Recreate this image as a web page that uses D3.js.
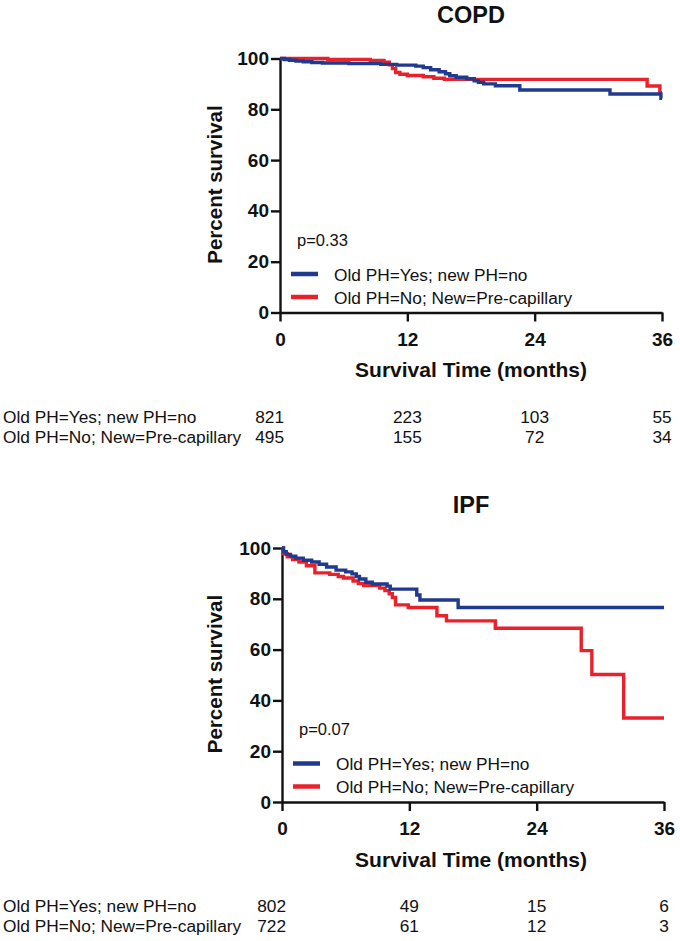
<!DOCTYPE html>
<html>
<head>
<meta charset="utf-8">
<script src="https://cdn.jsdelivr.net/npm/d3@7"></script>
<style>
  body { margin: 0; background: #fff; }
  text { font-family: "Liberation Sans", Arial, sans-serif; fill: #111; }
</style>
</head>
<body>
<div id="chart"></div>
<script>
// shared axes / labels
const monthTicks = [0, 12, 24, 36];
const pctTicks = [0, 20, 40, 60, 80, 100];
const groupNames = ["Old PH=Yes; new PH=no", "Old PH=No; New=Pre-capillary"];
const panelTitles = ["COPD", "IPF"];
const pValues = ["p=0.33", "p=0.07"];

// Kaplan-Meier steps [month, percent surviving]
const copdYesNo = [[0,100],[0.4,99.6],[0.9,99.3],[1.5,99],[2.2,98.7],[3,98.4],[4,98.2],[6.5,98],[9.5,97.7],[11,97.4],[12.8,97],[13.5,96.4],[14.2,95.6],[15,94.8],[15.6,94],[16,93.2],[16.6,92.6],[17.6,92],[18.3,91.2],[18.7,90.6],[19.2,90],[20.3,89.3],[22.6,87.6],[31.1,86],[35.9,84.3],[36,84.3]];
const copdNoPre = [[0,100],[4.5,99.6],[8.5,99.2],[9.8,98.5],[10.3,97.5],[10.6,96],[10.9,94.5],[11.3,93.8],[12,93.3],[13.5,92.8],[14.5,92.2],[15.5,91.8],[34.6,89.2],[35.8,86.5],[36,86.5]];
const ipfYesNo = [[0,100],[0.15,98.5],[0.4,97.5],[0.8,96.8],[1.3,96],[2,95.2],[2.8,94.5],[3.5,93.6],[4.2,92.5],[5.1,91.3],[6,90.6],[6.6,89.8],[7,88.8],[7.3,87.8],[7.9,86.5],[8.5,85.8],[9.9,85],[10.2,83.8],[12.7,81.5],[13,79.5],[16.6,76.6],[36,76.6]];
const ipfNoPre = [[0,100],[0.1,97.8],[0.5,96.5],[1,95.5],[1.6,94.5],[2.3,93],[3.1,90.2],[4.5,89.6],[5.3,88.8],[5.8,88.2],[6.7,87],[7.2,86],[7.7,85.2],[9.2,84.2],[9.7,83.2],[10.1,82],[10.4,80.5],[10.7,77.6],[11.9,76.6],[14.6,73.3],[15.5,71.3],[20.1,68.4],[28.2,59.6],[29.2,50.2],[32.2,33.1],[36,33.1]];

// numbers at risk at 0, 12, 24, 36 months
const copdAtRisk = [[821, 223, 103, 55], [495, 155, 72, 34]];
const ipfAtRisk = [[802, 49, 15, 6], [722, 61, 12, 3]];

const colors = ["#1f3a8e", "#e8212b"];

const svg = d3.select('#chart')
    .append('svg')
    .attr('width', 680)
    .attr('height', 941);

svg.append('rect').attr('width', 680).attr('height', 941).attr('fill', '#fff');

function drawPanel(p) {

    const x = d3.scaleLinear().domain([0, 36]).range([p.left, p.left + 382]);
    const y = d3.scaleLinear().domain([0, 100]).range([p.bottom, p.bottom - 254]);

    const g = svg.append('g');

    // title
    g.append('text')
        .attr('x', 471).attr('y', p.bottom - 289.5)
        .attr('text-anchor', 'middle')
        .attr('font-size', 23.5).attr('font-weight', 'bold')
        .text(p.title);

    // axes
    const yAxis = g.append('g')
        .attr('transform', 'translate(' + p.left + ',0)')
        .call(d3.axisLeft(y).tickValues(pctTicks).tickSize(9).tickSizeOuter(0).tickPadding(2));

    const xAxis = g.append('g')
        .attr('transform', 'translate(0,' + p.bottom + ')')
        .call(d3.axisBottom(x).tickValues(monthTicks).tickSize(9).tickSizeOuter(0).tickPadding(5));

    [yAxis, xAxis].forEach(a => {
        a.select('.domain').attr('stroke', '#111').attr('stroke-width', 2.4);
        a.selectAll('.tick line').attr('stroke', '#111').attr('stroke-width', 2.4);
        a.selectAll('.tick text')
            .attr('font-size', 19).attr('font-weight', 'bold')
            .attr('font-family', '"Liberation Sans", Arial, sans-serif')
            .attr('fill', '#111');
    });
    xAxis.selectAll('.tick text').attr('dy', null).attr('y', 33);

    // axis titles
    g.append('text')
        .attr('x', 471).attr('y', p.bottom + 64.5)
        .attr('text-anchor', 'middle')
        .attr('font-size', 21).attr('font-weight', 'bold')
        .text('Survival Time (months)');

    g.append('text')
        .attr('transform', 'translate(222,' + (p.bottom - 128) + ') rotate(-90)')
        .attr('text-anchor', 'middle')
        .attr('font-size', 20.5).attr('font-weight', 'bold')
        .text('Percent survival');

    // survival curves
    const line = d3.line()
        .x(d => x(d[0]))
        .y(d => y(d[1]))
        .curve(d3.curveStepAfter);

    [1, 0].forEach(i => {
        g.append('path')
            .datum(p.series[i])
            .attr('fill', 'none')
            .attr('stroke', colors[i])
            .attr('stroke-width', 3.4)
            .attr('d', line);
    });

    // p value
    g.append('text')
        .attr('x', p.left + 17).attr('y', p.bottom - 67)
        .attr('font-size', 16.5)
        .text(p.pValue);

    // legend
    const legendY = [p.bottom - 38.5, p.bottom - 15.5];
    groupNames.forEach((name, i) => {
        g.append('line')
            .attr('x1', p.left + 11).attr('x2', p.left + 38)
            .attr('y1', legendY[i]).attr('y2', legendY[i])
            .attr('stroke', colors[i]).attr('stroke-width', 4.5);
        g.append('text')
            .attr('x', p.left + 54).attr('y', legendY[i] + 6.5)
            .attr('font-size', 17.3)
            .text(name);
    });

    // numbers at risk
    groupNames.forEach((name, i) => {
        const rowY = p.bottom + 110 + i * 20;
        g.append('text')
            .attr('x', 3).attr('y', rowY)
            .attr('font-size', 17.3)
            .text(name);
        p.atRisk[i].forEach((n, j) => {
            g.append('text')
                .attr('x', j === 0 ? x(monthTicks[j]) + 4 : x(monthTicks[j]))
                .attr('y', rowY)
                .attr('text-anchor', j === 0 ? 'end' : 'middle')
                .attr('font-size', 17.3)
                .text(n);
        });
    });
}

drawPanel({ title: panelTitles[0], left: 280, bottom: 312.5, pValue: pValues[0],
            series: [copdYesNo, copdNoPre], atRisk: copdAtRisk });
drawPanel({ title: panelTitles[1], left: 282, bottom: 802, pValue: pValues[1],
            series: [ipfYesNo, ipfNoPre], atRisk: ipfAtRisk });
</script>
</body>
</html>
